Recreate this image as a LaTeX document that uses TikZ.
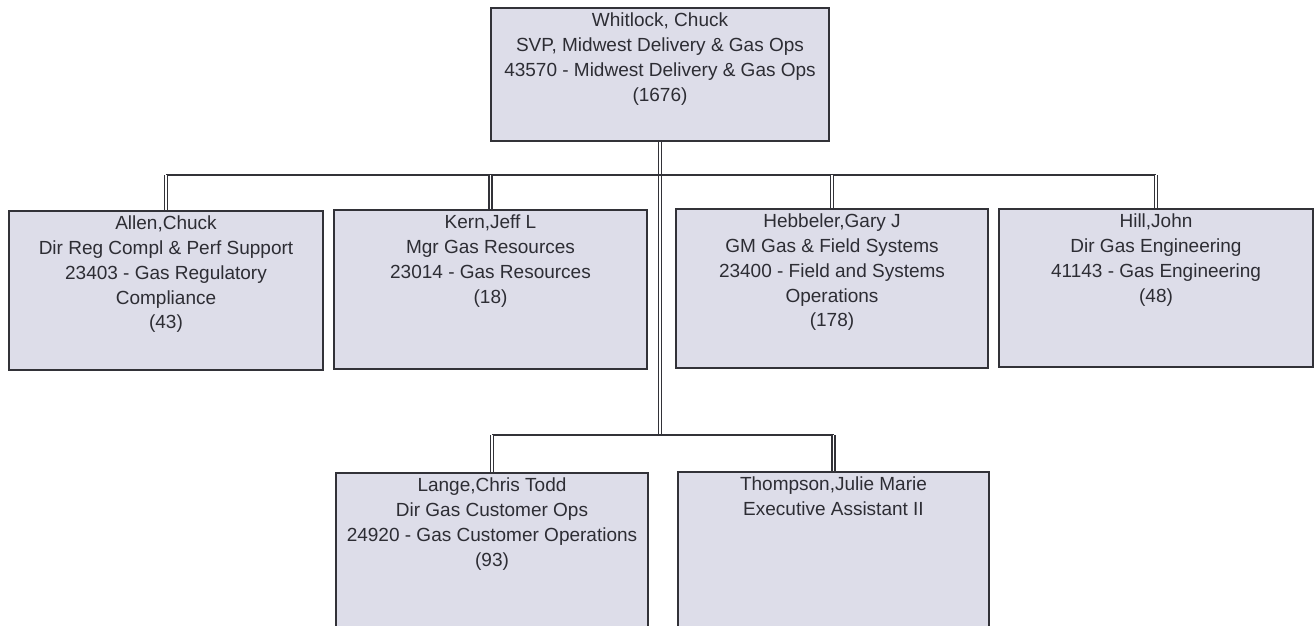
\documentclass[tikz,border=0pt]{standalone}
\usepackage{fontspec}
\setmainfont{Liberation Sans}
\definecolor{boxfill}{RGB}{221,221,233}
\definecolor{edge}{RGB}{50,50,56}
\definecolor{ink}{RGB}{45,45,52}
\begin{document}
\begin{tikzpicture}[x=1pt,y=-1pt,
  orgbox/.style={draw=edge,fill=boxfill,line width=2pt,rectangle,inner sep=0pt,anchor=north west},
  orgtext/.style={anchor=north,inner sep=0pt,align=center,text=ink,font=\fontsize{19}{24.7}\selectfont},
  bus/.style={draw=edge,line width=1.8pt},
  drop/.style={draw=edge,line width=1.2pt,double=white,double distance=1.8pt}]
\useasboundingbox (0,0) rectangle (1315,626);
% boxes
\node[orgbox,minimum width=338pt,minimum height=133pt] (top) at (490,7) {};
\node[orgbox,minimum width=314pt,minimum height=159pt] (allen) at (8,210) {};
\node[orgbox,minimum width=313pt,minimum height=159pt] (kern) at (333,209) {};
\node[orgbox,minimum width=312pt,minimum height=159pt] (hebb) at (675,208) {};
\node[orgbox,minimum width=314pt,minimum height=158pt] (hill) at (998,208) {};
\node[orgbox,minimum width=312pt,minimum height=180pt] (lange) at (335,472) {};
\node[orgbox,minimum width=311pt,minimum height=180pt] (thomp) at (677,471) {};
% texts
\node[orgtext] (ttop) at ([yshift=-6pt]top.north) {Whitlock, Chuck\\SVP, Midwest Delivery \& Gas Ops\\43570 - Midwest Delivery \& Gas Ops\\(1676)};
\node[orgtext] (tallen) at ([yshift=-6pt]allen.north) {Allen,Chuck\\Dir Reg Compl \& Perf Support\\23403 - Gas Regulatory\\Compliance\\(43)};
\node[orgtext] (tkern) at ([yshift=-6pt]kern.north) {Kern,Jeff L\\Mgr Gas Resources\\23014 - Gas Resources\\(18)};
\node[orgtext] (thebb) at ([yshift=-6pt]hebb.north) {Hebbeler,Gary J\\GM Gas \& Field Systems\\23400 - Field and Systems\\Operations\\(178)};
\node[orgtext] (thill) at ([yshift=-6pt]hill.north) {Hill,John\\Dir Gas Engineering\\41143 - Gas Engineering\\(48)};
\node[orgtext] (tlange) at ([yshift=-6pt]lange.north) {Lange,Chris Todd\\Dir Gas Customer Ops\\24920 - Gas Customer Operations\\(93)};
\node[orgtext] (tthomp) at ([yshift=-6pt]thomp.north) {Thompson,Julie Marie\\Executive Assistant II};
% connector points
\coordinate (bus1) at (660,175);
\coordinate (bus2) at (660,435);
% trunk
\draw[drop] (top.south) -- (top.south |- bus2);
% upper bus
\draw[bus] (allen.north |- bus1) -- (hill.north |- bus1);
\foreach \n in {allen,kern,hebb,hill}{
  \draw[drop] (\n.north |- bus1) -- (\n.north);
}
% lower bus
\draw[bus] (lange.north |- bus2) -- (thomp.north |- bus2);
\foreach \n in {lange,thomp}{
  \draw[drop] (\n.north |- bus2) -- (\n.north);
}
\end{tikzpicture}
\end{document}
